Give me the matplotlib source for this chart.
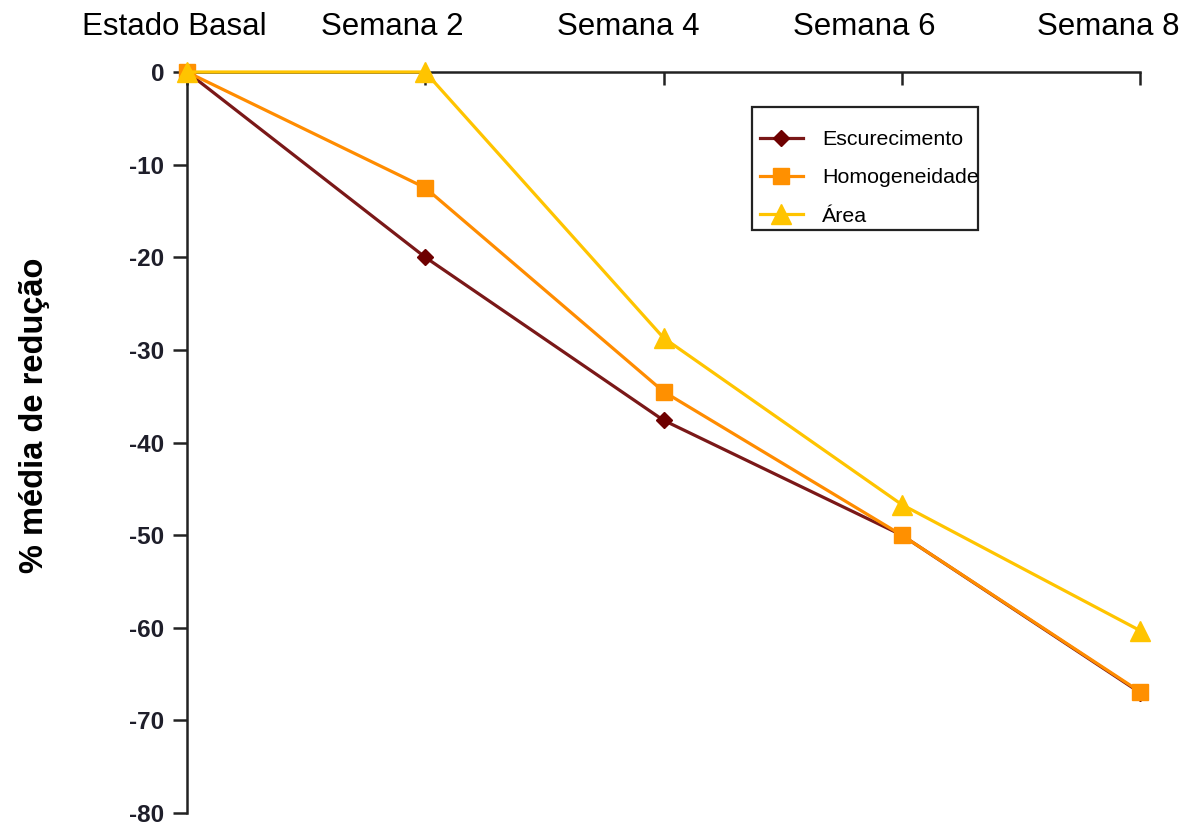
import matplotlib
matplotlib.use('Agg')
import matplotlib.pyplot as plt
from matplotlib.patches import Rectangle

plt.rcParams['font.family'] = ['Liberation Sans', 'DejaVu Sans']

# Dados
semanas = ['Estado Basal', 'Semana 2', 'Semana 4', 'Semana 6', 'Semana 8']
escurecimento = [0, -20, -37.6, -50, -67]
homogeneidade = [0, -12.5, -34.5, -50, -66.9]
area = [0, 0, -28.7, -46.7, -60.3]
yticks = [0, -10, -20, -30, -40, -50, -60, -70, -80]

# deslocamento horizontal (px) dos rótulos do topo
desloc = [-13, -33, -35, -38, -32]

fig = plt.figure(figsize=(11.87, 8.27), dpi=100)
ax = fig.add_axes([187 / 1187, 1 - 813 / 827, (1140 - 187) / 1187, (813 - 72) / 827])

x = list(range(len(semanas)))
ax.plot(x, escurecimento, color='#7a1818', marker='D', markersize=8.5, markerfacecolor='#6e0000',
        markeredgecolor='#6e0000', linewidth=2.3, label='Escurecimento', clip_on=False, zorder=3)
ax.plot(x, homogeneidade, color='#ff8c00', marker='s', markersize=12, markerfacecolor='#ff9000',
        markeredgecolor='#ff9000', linewidth=2.3, label='Homogeneidade', clip_on=False, zorder=4)
ax.plot(x, area, color='#ffc400', marker='^', markersize=14, linewidth=2.3,
        label='Área', clip_on=False, zorder=5)

ax.set_xlim(0, len(semanas) - 1)
ax.set_ylim(-80, 0)

# eixo x no topo
ax.spines['bottom'].set_visible(False)
ax.spines['right'].set_visible(False)
for s in ['top', 'left']:
    ax.spines[s].set_linewidth(1.8)
    ax.spines[s].set_color('#222222')

ax.xaxis.tick_top()
ax.set_xticks(x)
ax.set_xticklabels([])
ax.tick_params(axis='x', direction='in', length=9, width=1.8, color='#222222')
for i, s in enumerate(semanas):
    ax.annotate(s, xy=(i, 1), xycoords=('data', 'axes fraction'),
                xytext=(desloc[i], 45), textcoords='offset pixels',
                ha='center', va='center', fontsize=22.5, color='black',
                annotation_clip=False)

ax.set_yticks(yticks)
ax.set_yticklabels([str(v) for v in yticks], fontsize=17.5, fontweight='bold', color='#1e1e2a')
ax.tick_params(axis='y', direction='out', length=10, width=1.8, color='#222222', pad=6.5)

fig.text(35 / 1187, 1 - 415 / 827, '% média de redução', rotation=90, ha='center', va='center',
         fontsize=23.5, fontweight='bold')

# caixa da legenda
caixa = Rectangle((752 / 1187, 1 - 230 / 827), (978 - 752) / 1187, (230 - 107) / 827,
                  transform=fig.transFigure, facecolor='white', edgecolor='#222222',
                  linewidth=1.6, zorder=6, clip_on=False)
ax.add_patch(caixa)

leg = ax.legend(loc='upper left', bbox_to_anchor=(760 / 1187, 1 - 130 / 827),
                bbox_transform=fig.transFigure, fontsize=15.4, frameon=False,
                borderpad=0, labelspacing=0.9, handlelength=2.0, handletextpad=0.9,
                borderaxespad=0)
leg.set_zorder(7)

fig.savefig('out.png', dpi=100)
